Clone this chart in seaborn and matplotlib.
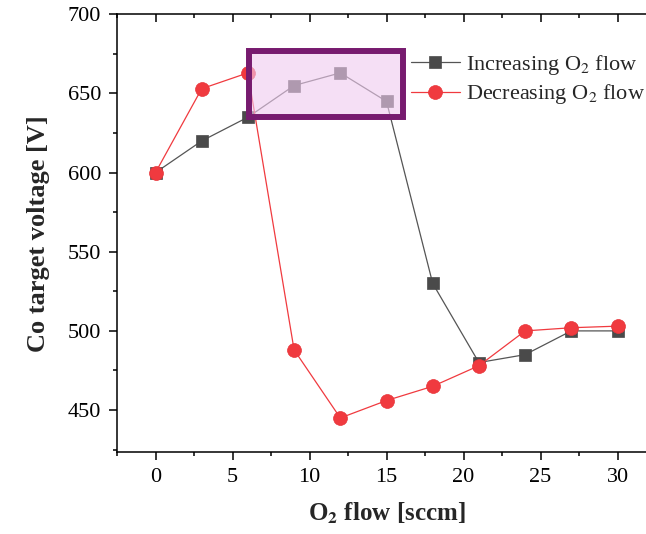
import numpy as np
import matplotlib
matplotlib.use('Agg')
import matplotlib.pyplot as plt
import matplotlib.patches as patches
import matplotlib.lines as mlines
from matplotlib.ticker import MultipleLocator
import seaborn as sns

# data
o2_flow = [0, 3, 6, 9, 12, 15, 18, 21, 24, 27, 30]
v_increasing = [600, 620, 635, 655, 663, 645, 530, 480, 485, 500, 500]
v_decreasing = [600, 653, 663, 488, 445, 456, 465, 478, 500, 502, 503]

sns.set_style('ticks')
plt.rcParams['font.family'] = ['Liberation Serif', 'DejaVu Serif']
plt.rcParams['mathtext.fontset'] = 'stix'

fig = plt.figure(figsize=(6.46, 5.34), dpi=100)
ax = fig.add_axes([117 / 646, 82 / 534, 539 / 646, 437.7 / 534])

sns.lineplot(x=o2_flow, y=v_increasing, ax=ax, color='#555555', lw=0.9,
             marker='s', markersize=9, markeredgecolor='#4a4a4a',
             markerfacecolor='#4a4a4a', markeredgewidth=0.5,
             label='Increasing O$_2$ flow')
sns.lineplot(x=o2_flow, y=v_decreasing, ax=ax, color='#f03a3f', lw=0.9,
             marker='o', markersize=10, markeredgecolor='#e8353a',
             markerfacecolor='#f03a3f', markeredgewidth=0.5,
             label='Decreasing O$_2$ flow')

# highlight box
box = patches.Rectangle((6.1, 635.1), 9.94, 41.7, facecolor=(0.94, 0.80, 0.94, 0.61),
                        edgecolor='#771b6f', lw=4.3, zorder=5)
ax.add_patch(box)

ax.set_xlim(-2.5, 32.5)
ax.set_ylim(423.5, 700)
ax.xaxis.set_major_locator(MultipleLocator(5))
ax.xaxis.set_minor_locator(MultipleLocator(2.5))
ax.yaxis.set_major_locator(MultipleLocator(50))
ax.yaxis.set_minor_locator(MultipleLocator(25))

ax.tick_params(axis='both', which='major', labelsize=16, length=5.5, width=1.1,
               color='black', labelcolor='black', pad=6)
ax.tick_params(axis='both', which='minor', length=3, width=1.1, color='black')
for sp in ax.spines.values():
    sp.set_linewidth(1.1)
    sp.set_color('black')

# inward ticks along the top edge, at the same places as the bottom ticks
xmin, xmax = ax.get_xlim()
major_locs = [v for v in ax.xaxis.get_majorticklocs() if xmin <= v <= xmax]
minor_locs = [v for v in ax.xaxis.get_minorticklocs() if xmin <= v <= xmax]
ax.plot(major_locs, [1] * len(major_locs), transform=ax.get_xaxis_transform(),
        ls='none', marker=mlines.TICKDOWN, ms=5.5, mew=1.1, color='black',
        clip_on=False, zorder=6)
ax.plot(minor_locs, [1] * len(minor_locs), transform=ax.get_xaxis_transform(),
        ls='none', marker=mlines.TICKDOWN, ms=3, mew=1.1, color='black',
        clip_on=False, zorder=6)
ax.set_xlim(xmin, xmax)

ax.set_xlabel('O$_\\mathbf{2}$ flow [sccm]', fontsize=18, weight='bold', labelpad=10)
ax.set_ylabel('Co target voltage [V]', fontsize=19, weight='bold', labelpad=13)

leg = ax.legend(loc='upper left', bbox_to_anchor=(0.545, 0.912), frameon=False,
                fontsize=16, handlelength=2.2, handletextpad=0.3, labelspacing=0.25,
                borderpad=0, borderaxespad=0)

fig.savefig('out.png', dpi=100)
